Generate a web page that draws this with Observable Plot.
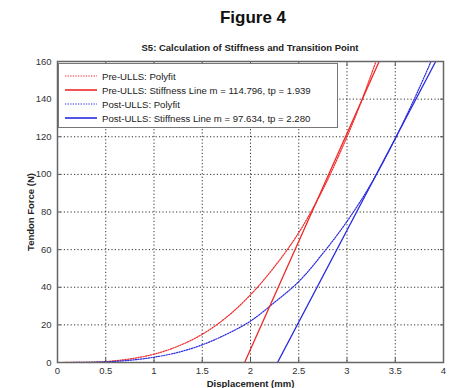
<!DOCTYPE html>
<html><head><meta charset="utf-8">
<script src="https://cdn.jsdelivr.net/npm/d3@7"></script>
<script src="https://cdn.jsdelivr.net/npm/@observablehq/plot@0.6"></script>
<style>
body{margin:0;background:#fff;font-family:"Liberation Sans",Arial,sans-serif;}
#wrap{position:relative;width:450px;height:388px;}
#fig{position:absolute;left:0;width:506px;top:8px;text-align:center;font-weight:bold;font-size:17px;color:#111;}
#sub{position:absolute;left:57px;width:386px;top:42px;text-align:center;font-weight:bold;font-size:9.5px;color:#222;}
#chart{position:absolute;left:0;top:55px;}
#legend{position:absolute;left:58px;top:63px;width:278px;height:63px;background:#fff;border:1px solid #777;font-size:9.6px;color:#222;}
.row{position:absolute;left:6px;height:14px;display:flex;align-items:center;}
.row svg{margin-right:5px;}
</style></head>
<body>
<div id="wrap">
<div id="fig">Figure 4</div>
<div id="sub">S5: Calculation of Stiffness and Transition Point</div>
<div id="chart"></div>
<div id="legend"></div>
</div>
<script>
const xTicks = [0,0.5,1,1.5,2,2.5,3,3.5,4];
const yTicks = [0,20,40,60,80,100,120,140,160];
const preFitX = [0,0.25,0.5,0.75,1,1.25,1.5,1.75,2,2.25,2.5,2.75,3,3.15,3.3];
const preFitY = [0,0.1,0.5,1.9,4.4,8.7,15,24,36,51,69,92,120,139,160];
const postFitX = [0,0.25,0.5,0.75,1,1.25,1.5,1.75,2,2.25,2.5,2.75,3,3.25,3.5,3.75,3.87];
const postFitY = [0,0.05,0.35,1.2,2.8,5.4,9.4,15,22,32,43,58,75,95,119,146,160];
const preLineX = [1.939,3.333];
const preLineY = [0,160];
const postLineX = [2.28,3.919];
const postLineY = [0,160];
const seriesNames = ["Pre-ULLS: Polyfit","Pre-ULLS: Stiffness Line m = 114.796, tp = 1.939","Post-ULLS: Polyfit","Post-ULLS: Stiffness Line m = 97.634, tp = 2.280"];
const RED = "#f02828", BLUE = "#2a2ae0";

const pts = (xs, ys) => xs.map((x,i)=>({x, y: ys[i]}));
const fmt = d => String(d);

const plot = Plot.plot({
  width: 450, height: 333,
  marginLeft: 57, marginRight: 7, marginTop: 6, marginBottom: 26,
  style: {fontFamily: '"Liberation Sans", Arial, sans-serif', fontSize: "9.5px", color: "#333", background: "#fff"},
  x: {domain: [0,4], ticks: xTicks},
  y: {domain: [0,160], ticks: yTicks},
  marks: [
    Plot.gridX(xTicks, {stroke: "#111", strokeOpacity: 0.85, strokeDasharray: "1.2,2.2"}),
    Plot.gridY(yTicks, {stroke: "#111", strokeOpacity: 0.85, strokeDasharray: "1.2,2.2"}),
    Plot.line(pts(preFitX, preFitY), {x: "x", y: "y", stroke: RED, strokeWidth: 1.2, strokeDasharray: "1.3,1.3", curve: "catmull-rom", clip: true}),
    Plot.line(pts(postFitX, postFitY), {x: "x", y: "y", stroke: BLUE, strokeWidth: 1.2, strokeDasharray: "1.3,1.3", curve: "catmull-rom", clip: true}),
    Plot.line(pts(preLineX, preLineY), {x: "x", y: "y", stroke: RED, strokeWidth: 1.3, clip: true}),
    Plot.line(pts(postLineX, postLineY), {x: "x", y: "y", stroke: BLUE, strokeWidth: 1.3, clip: true}),
    Plot.axisX(xTicks, {tickSize: 0, tickPadding: 5, tickFormat: fmt, label: "Displacement (mm)", labelAnchor: "center", labelArrow: "none", labelOffset: 24}),
    Plot.axisY(yTicks, {tickSize: 0, tickPadding: 6, tickFormat: fmt, label: "Tendon Force (N)", labelAnchor: "center", labelArrow: "none", labelOffset: 30}),
    Plot.axisX(xTicks, {anchor: "top", tickSize: -4, tickFormat: () => "", label: null, stroke: "#555"}),
    Plot.axisX(xTicks, {anchor: "bottom", tickSize: -4, tickFormat: () => "", label: null, stroke: "#555"}),
    Plot.axisY(yTicks, {anchor: "left", tickSize: -4, tickFormat: () => "", label: null, stroke: "#555"}),
    Plot.axisY(yTicks, {anchor: "right", tickSize: -4, tickFormat: () => "", label: null, stroke: "#555"}),
    Plot.frame({stroke: "#666", strokeWidth: 1.5})
  ]
});
plot.querySelectorAll('[aria-label="x-axis label"], [aria-label="y-axis label"]').forEach(g => {
  g.setAttribute("font-weight", "bold"); g.setAttribute("fill", "#222");
});
document.getElementById("chart").appendChild(plot);

const legend = document.getElementById("legend");
const styles = [[RED,true],[RED,false],[BLUE,true],[BLUE,false]];
seriesNames.forEach((name,i) => {
  const [c, dotted] = styles[i];
  const row = document.createElement("div");
  row.className = "row";
  row.style.top = (5 + i*14) + "px";
  row.innerHTML = `<svg width="32" height="6"><line x1="0" y1="3" x2="32" y2="3" stroke="${c}" stroke-width="${dotted?1.2:1.6}" ${dotted?'stroke-dasharray="1.3,1.3"':''}/></svg><span>${name}</span>`;
  legend.appendChild(row);
});
</script>
</body></html>
